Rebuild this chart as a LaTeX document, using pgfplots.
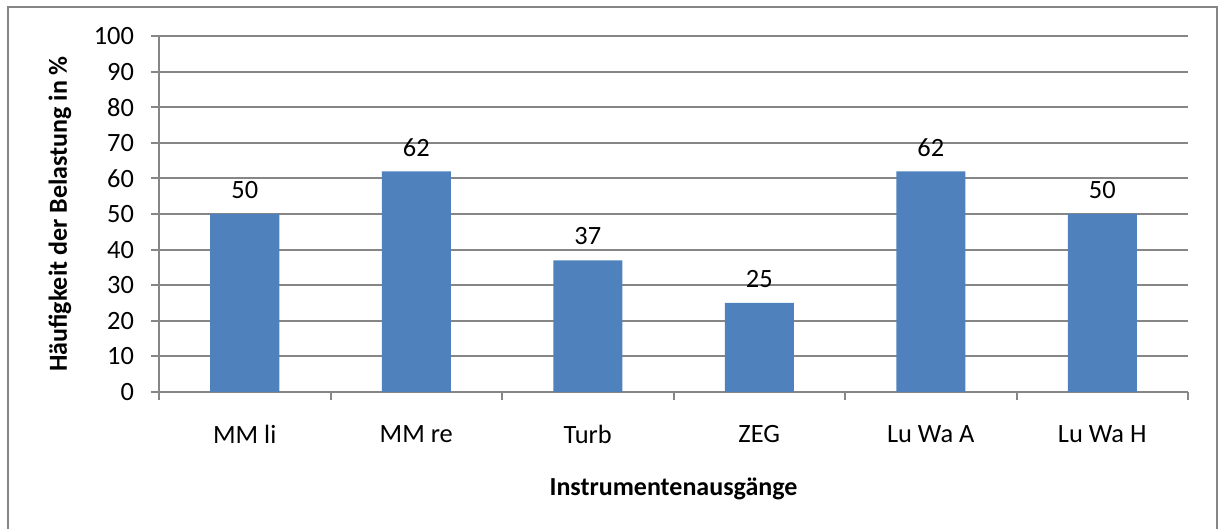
\documentclass[border=0pt]{standalone}
\usepackage{pgfplots}
\pgfplotsset{compat=1.18}
\usepackage{fontspec}
\setmainfont{Carlito}
\definecolor{barblue}{RGB}{79,129,189}
\definecolor{gridgray}{RGB}{134,134,134}
\begin{document}
\begin{tikzpicture}
\begin{axis}[
  at={(0,0)}, anchor=south west,
  scale only axis, width=514.5pt, height=178pt,
  xmin=0.5, xmax=6.5, ymin=0, ymax=100,
  ytick={0,10,...,100},
  xtick={1,...,6},
  xticklabels={MM li, MM re, Turb, ZEG, Lu Wa A, Lu Wa H},
  minor xtick={0.5,1.5,...,6.5},
  axis x line*=bottom, axis y line*=left,
  axis line style={gridgray, line width=1pt, -},
  ymajorgrids, major grid style={gridgray, line width=1pt},
  tick align=outside,
  major tick length=4pt, minor tick length=4pt,
  every tick/.style={gridgray, line width=1pt},
  major x tick style={draw=none},
  tick label style={font=\fontsize{13.2}{15}\selectfont},
  /pgf/number format/assume math mode=true,
  yticklabel style={xshift=-5pt},
  xticklabel style={yshift=-9pt},
  xlabel={Instrumentenausgänge},
  ylabel={Häufigkeit der Belastung in \%},
  label style={font=\bfseries\fontsize{13}{15}\selectfont},
  xlabel style={at={(axis description cs:0.5,0)}, anchor=center, yshift=-48.5pt},
  ylabel style={at={(axis description cs:0,0.5)}, anchor=center, yshift=49.5pt},
  ybar, bar width=34.5pt,
  nodes near coords,
  every node near coord/.append style={font=\fontsize{13.2}{15}\selectfont, anchor=center, yshift=12pt, black},
]
\addplot[fill=barblue, draw=none] coordinates {(1,50) (2,62) (3,37) (4,25) (5,62) (6,50)};
\end{axis}
\draw[gridgray, line width=1pt] (-75.5pt,-70pt) -- (-75.5pt,192.5pt) -- (529pt,192.5pt) -- (529pt,-70pt);
\pgfresetboundingbox
\path (-79.5pt,-68.5pt) rectangle (533pt,196pt);
\end{tikzpicture}
\end{document}
